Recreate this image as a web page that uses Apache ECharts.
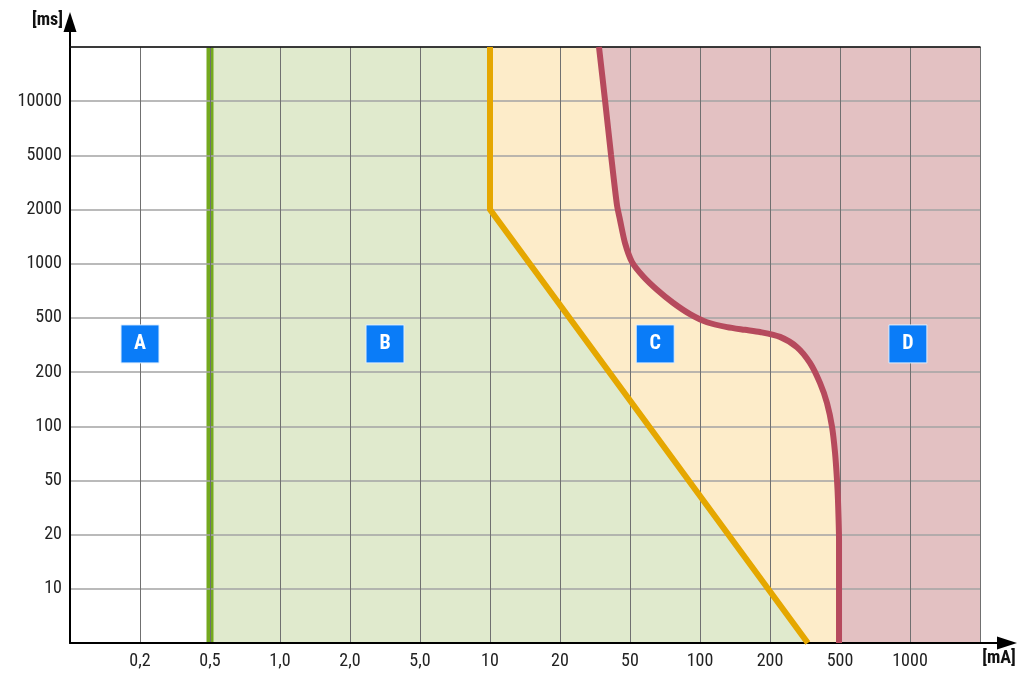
<!DOCTYPE html>
<html>
<head>
<meta charset="utf-8">
<script src="https://cdn.jsdelivr.net/npm/echarts@6/dist/echarts.min.js"></script>
<style>
html,body{margin:0;padding:0;background:#fff;}
#chart{width:1017px;height:673px;}
</style>
</head>
<body>
<div id="chart"></div>
<script>
// Tick labels (x: current in mA, y: time in ms), evenly spaced positions
const xLabels = ['', '0,2', '0,5', '1,0', '2,0', '5,0', '10', '20', '50', '100', '200', '500', '1000', ''];
const yLabels = ['', '10', '20', '50', '100', '200', '500', '1000', '2000', '5000', '10000', ''];

// Boundary curves (x index, y index)
const greenLine = [[2, 0], [2, 11]];
const yellowLine = [[6, 11], [6, 8.0], [10.54, 0]];
const redCurve = [
  [7.557, 11.0], [7.643, 10.02], [7.729, 9.01], [7.814, 8.08], [7.857, 7.81],
  [7.929, 7.38], [8.029, 7.03], [8.186, 6.77], [8.386, 6.52], [8.614, 6.28],
  [8.857, 6.07], [9.10, 5.92], [9.386, 5.83], [9.643, 5.78], [9.857, 5.74],
  [10.143, 5.65], [10.386, 5.46], [10.571, 5.17], [10.714, 4.80], [10.814, 4.43],
  [10.886, 3.99], [10.929, 3.51], [10.957, 3.01], [10.971, 2.64], [10.986, 1.90],
  [10.986, 0]
];
// Zone labels
const zoneLabels = [[1, 5.52, 'A'], [4.5, 5.52, 'B'], [8.36, 5.52, 'C'], [11.97, 5.52, 'D']];

const XMIN = 0, XMAX = 13, YMIN = 0, YMAX = 11;
const FONT = '"Roboto Condensed", "Liberation Sans Narrow", "DejaVu Sans Condensed", Roboto, sans-serif';

const greenZone = [[2, YMIN], [2, YMAX], [XMAX, YMAX], [XMAX, YMIN]];
const creamZone = yellowLine.concat([[XMAX, YMIN], [XMAX, YMAX]]);
const pinkZone = redCurve.concat([[XMAX, YMIN], [XMAX, YMAX]]);

function polySeries(points, color) {
  return {
    type: 'custom',
    z: -1,
    silent: true,
    data: points,
    renderItem: function (params, api) {
      if (params.dataIndex !== 0) return;
      const pts = points.map(p => api.coord(p));
      return { type: 'polygon', shape: { points: pts, smooth: 0 }, style: { fill: color } };
    }
  };
}

const chart = echarts.init(document.getElementById('chart'));
chart.setOption({
  animation: false,
  grid: { left: 70, right: 37, top: 47, bottom: 30 },
  xAxis: [{
    type: 'value', min: XMIN, max: XMAX, interval: 1,
    axisLine: { lineStyle: { color: '#000', width: 2 } },
    axisTick: { show: false },
    axisLabel: { formatter: v => xLabels[v] || '', fontSize: 18, color: '#222', margin: 9, fontFamily: FONT },
    splitLine: { lineStyle: { color: '#707070', width: 1 } }
  }, {
    type: 'value', position: 'top', min: XMIN, max: XMAX,
    axisLine: { show: true, lineStyle: { color: '#111', width: 1.5 } },
    axisTick: { show: false }, axisLabel: { show: false }, splitLine: { show: false }
  }],
  yAxis: {
    type: 'value', min: YMIN, max: YMAX, interval: 1,
    axisLine: { show: true, lineStyle: { color: '#000', width: 2 } },
    axisTick: { show: false },
    axisLabel: { formatter: v => yLabels[v] || '', fontSize: 18, color: '#222', margin: 8, fontFamily: FONT },
    splitLine: { lineStyle: { color: '#a3a3a3', width: 1.5 } }
  },
  series: [
    polySeries(greenZone, '#e0eacd'),
    polySeries(creamZone, '#fdecc9'),
    polySeries(pinkZone, '#e3c1c2'),
    { type: 'line', z: -1, data: greenLine, symbol: 'none', lineStyle: { color: '#74a91e', width: 7 } },
    { type: 'line', data: yellowLine, symbol: 'none', lineStyle: { color: '#e5a700', width: 6, join: 'miter' } },
    { type: 'line', data: redCurve, symbol: 'none', smooth: 0.25, lineStyle: { color: '#b64a5d', width: 6 } },
    {
      type: 'scatter', data: zoneLabels, symbol: 'rect', symbolSize: 38,
      itemStyle: { color: '#0a7cf8', opacity: 1, borderColor: '#dfefff', borderWidth: 1 },
      label: { show: true, position: 'inside', formatter: p => p.data[2], color: '#fff', fontSize: 20, fontWeight: 'bold', fontFamily: FONT }
    }
  ]
});

const tl = chart.convertToPixel({ gridIndex: 0 }, [XMIN, YMAX]);
const br = chart.convertToPixel({ gridIndex: 0 }, [XMAX, YMIN]);
chart.setOption({
  graphic: [
    { type: 'line', shape: { x1: tl[0], y1: tl[1], x2: tl[0], y2: tl[1] - 18 }, style: { stroke: '#000', lineWidth: 2 } },
    { type: 'polygon', shape: { points: [[tl[0] - 6.5, tl[1] - 15], [tl[0], tl[1] - 35], [tl[0] + 6.5, tl[1] - 15]] }, style: { fill: '#000' } },
    { type: 'line', shape: { x1: br[0], y1: br[1], x2: br[0] + 19, y2: br[1] }, style: { stroke: '#000', lineWidth: 2 } },
    { type: 'polygon', shape: { points: [[br[0] + 17, br[1] - 6.5], [br[0] + 37, br[1]], [br[0] + 17, br[1] + 6.5]] }, style: { fill: '#000' } },
    { type: 'text', x: tl[0] - 7, y: tl[1] - 27, style: { text: '[ms]', fill: '#111', font: 'bold 18px ' + FONT, align: 'right', verticalAlign: 'middle' } },
    { type: 'text', x: br[0] + 19, y: br[1] + 15, style: { text: '[mA]', fill: '#111', font: 'bold 18px ' + FONT, align: 'center', verticalAlign: 'middle' } }
  ]
});
</script>
</body>
</html>
